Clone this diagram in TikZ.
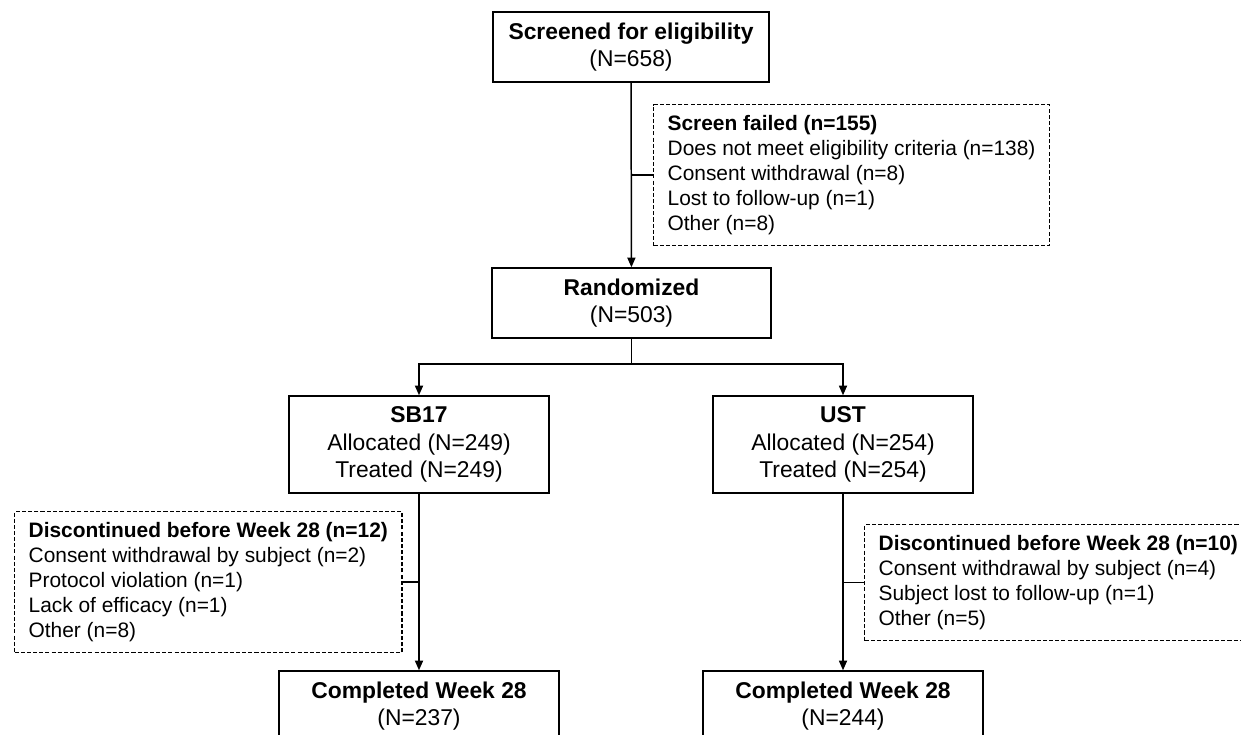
\documentclass[tikz,border=0pt]{standalone}
\usepackage{fontspec}
\setmainfont{Liberation Sans}
\usetikzlibrary{arrows.meta,positioning,calc}

\begin{document}
\begin{tikzpicture}[x=0.02cm,y=-0.02cm,
  every node/.style={font=\fontsize{13}{15.5}\selectfont},
  box/.style={draw,line width=0.85pt,align=center,inner sep=0pt},
  dbox/.style={draw,line width=0.75pt,dash pattern=on 2.3pt off 1.2pt,align=left,
    inner xsep=0.28cm,inner ysep=0pt,anchor=north west,
    font=\fontsize{11.9}{14.17}\selectfont},
  link/.style={line width=0.85pt},
  arr/.style={link,-{Triangle[length=5.5pt,width=4.6pt]}}]
\useasboundingbox (0,0) rectangle (1241,734);
\node[box,minimum width=5.52cm,minimum height=1.4cm] (screen) at (631,47)
  {\textbf{Screened for eligibility}\\(N=658)};
\node[dbox,minimum height=2.82cm] (fail) at (653,104)
  {\textbf{Screen failed (n=155)}\\Does not meet eligibility criteria (n=138)\\
   Consent withdrawal (n=8)\\Lost to follow-up (n=1)\\Other (n=8)};
\node[box,minimum width=5.58cm,minimum height=1.4cm] (rand) at (631.5,303)
  {\textbf{Randomized}\\(N=503)};
\coordinate (split) at (631.5,364);
\node[box,minimum width=5.2cm,minimum height=1.94cm] (sb17) at (419,444.5)
  {\textbf{SB17}\\Allocated (N=249)\\Treated (N=249)};
\node[box,minimum width=5.2cm,minimum height=1.94cm] (ust) at (843,444.5)
  {\textbf{UST}\\Allocated (N=254)\\Treated (N=254)};
\node[dbox,minimum height=2.82cm] (disc1) at (14,511)
  {\textbf{Discontinued before Week 28 (n=12)}\\Consent withdrawal by subject (n=2)\\
   Protocol violation (n=1)\\Lack of efficacy (n=1)\\Other (n=8)};
\node[dbox,minimum height=2.32cm] (disc2) at (864,524)
  {\textbf{Discontinued before Week 28 (n=10)}\\Consent withdrawal by subject (n=4)\\
   Subject lost to follow-up (n=1)\\Other (n=5)};
\node[box,minimum width=5.6cm,minimum height=1.4cm] (comp1) at (419,706)
  {\textbf{Completed Week 28}\\(N=237)};
\node[box,minimum width=5.6cm,minimum height=1.4cm] (comp2) at (843,706)
  {\textbf{Completed Week 28}\\(N=244)};
\draw[arr] (screen) -- (rand);
\draw[link] (screen.south |- fail.west) -- (fail.west);
\draw[link] (rand) -- (split);
\draw[arr] (split) -| (sb17.north);
\draw[arr] (split) -| (ust.north);
\draw[arr] (sb17) -- (comp1);
\draw[arr] (ust) -- (comp2);
\draw[link] (sb17.south |- disc1.east) -- (disc1.east);
\draw[link] (ust.south |- disc2.west) -- (disc2.west);
\end{tikzpicture}
\end{document}
